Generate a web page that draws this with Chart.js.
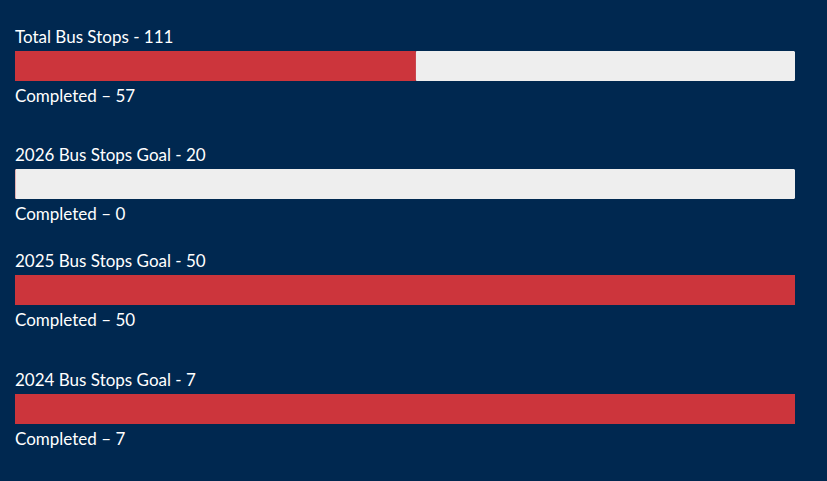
<!DOCTYPE html>
<html><head><meta charset="utf-8">
<script src="https://cdn.jsdelivr.net/npm/chart.js@4"></script>
<style>
html,body{margin:0;padding:0;background:#002850;width:827px;height:481px;overflow:hidden;font-family:Lato,"Open Sans",sans-serif;}
.t{position:absolute;left:15px;color:#fff;font-size:17px;line-height:20px;white-space:nowrap;}
.b{position:absolute;left:15px;width:780px;height:30px;}
</style></head><body>
<script>
const titles = ["Total Bus Stops - 111","2026 Bus Stops Goal - 20","2025 Bus Stops Goal - 50","2024 Bus Stops Goal - 7"];
const goals = [111, 20, 50, 7];
const completed = [57, 0, 50, 7];
const completedLabels = ["Completed \u2013 57","Completed \u2013 0","Completed \u2013 50","Completed \u2013 7"];
const barTops = [51,169,275,394];
goals.forEach((g,i)=>{
  const top=barTops[i];
  const t=document.createElement('div');t.className='t';t.style.top=(top-24)+'px';t.textContent=titles[i];document.body.appendChild(t);
  const c=document.createElement('div');c.className='t';c.style.top=(top+35)+'px';c.textContent=completedLabels[i];document.body.appendChild(c);
  const d=document.createElement('div');d.className='b';d.style.top=top+'px';
  const cv=document.createElement('canvas');d.appendChild(cv);document.body.appendChild(d);
  new Chart(cv,{type:'bar',data:{labels:[''],datasets:[
    {data:[completed[i]],backgroundColor:'#CC353C',barPercentage:1,categoryPercentage:1,borderRadius:0},
    {data:[g-completed[i]],backgroundColor:'#EEEEEE',barPercentage:1,categoryPercentage:1,borderRadius:3,borderSkipped:false}
  ]},options:{indexAxis:'y',responsive:true,maintainAspectRatio:false,animation:false,
    layout:{padding:0},
    plugins:{legend:{display:false},tooltip:{enabled:false}},
    scales:{x:{stacked:true,min:0,max:g,display:false},y:{stacked:true,display:false}}}});
});
</script>
</body></html>
